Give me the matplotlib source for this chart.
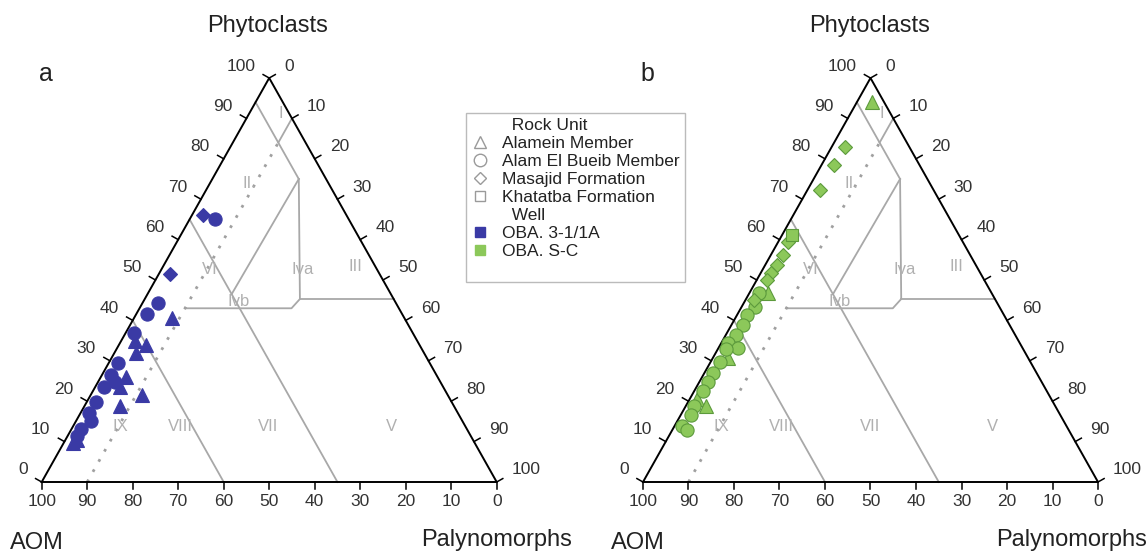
import numpy as np
import matplotlib
matplotlib.use("Agg")
from matplotlib import pyplot as plt
from matplotlib.lines import Line2D

plt.rcParams['font.family'] = ['Liberation Sans', 'DejaVu Sans']

W, H = 1148, 552
PX = 4.55                 # pixels per percent along the base
TRI_H = 404.0 / 455.0     # triangle height / base length

# data: (phytoclasts %, palynomorphs %); AOM is the rest
# panel a, well OBA. 3-1/1A
a_tri_phyto = [40.5, 34.9, 33.9, 31.9, 26.1, 23.5, 21.5, 18.9, 10.5, 9.6]
a_tri_paly = [8.4, 3.1, 5.9, 4.8, 5.5, 5.5, 11.4, 7.8, 2.6, 2.0]
a_cir_phyto = [65.0, 44.2, 41.7, 36.9, 29.5, 26.6, 24.8, 23.4, 19.9, 17.0, 15.1, 13.1, 11.5]
a_cir_paly = [5.6, 3.5, 2.2, 1.8, 2.0, 1.9, 3.6, 2.1, 2.0, 2.0, 3.3, 2.0, 2.0]
a_dia_phyto = [66.1, 51.5]
a_dia_paly = [2.3, 2.5]
a_sq_phyto = []
a_sq_paly = []

# panel b, well OBA. S-C
b_tri_phyto = [94.1, 46.7, 30.6, 20.5, 18.9]
b_tri_paly = [3.2, 4.2, 3.3, 1.7, 4.5]
b_cir_phyto = [46.7, 43.4, 41.3, 38.9, 36.4, 34.3, 33.1, 32.9, 29.8, 26.9, 24.7, 22.5, 18.8, 16.5, 13.8, 12.8]
b_cir_paly = [2.2, 2.9, 2.1, 2.6, 2.2, 1.5, 4.4, 1.9, 2.0, 2.0, 2.0, 2.0, 1.8, 2.2, 1.7, 3.3]
b_dia_phyto = [83.0, 78.5, 72.4, 59.5, 56.2, 53.7, 51.8, 50.0, 45.0]
b_dia_paly = [2.9, 2.8, 2.6, 2.2, 2.6, 2.5, 2.2, 2.2, 1.8]
b_sq_phyto = [61.1]
b_sq_paly = [2.3]

ticks = list(range(0, 101, 10))

# field boundaries as (phytoclasts, palynomorphs) polylines
fields = [
    [(40, 0), (0, 40)],                         # AOM 60
    [(65, 0), (0, 65)],                         # AOM 35
    [(46.5, 18.5), (75, 19)],                   # palynomorphs ~18
    [(94, 0), (75, 19)],                        # AOM 6
    [(75, 19), (45.3, 34.1), (43, 33.4), (43, 10)],
    [(45.3, 34.1), (45.3, 54.7)],
    [(84, 10), (90, 10)],
]
dotted = [(0, 10), (84, 10)]
field_names = ["I", "II.", "VI", "Iva", "III", "Ivb", "IX", "VIII", "VII", "V"]
field_pos = [(91.3, 6.8), (73.9, 8.8), (52.5, 10.7), (52.5, 31.2), (53.3, 42.2),
             (44.6, 20.9), (13.7, 10.4), (13.7, 23.6), (13.7, 43.0), (13.7, 70.0)]


def tern(phyto, paly):
    phyto = np.asarray(phyto, float)
    paly = np.asarray(paly, float)
    return paly + phyto / 2.0, phyto * TRI_H


def panel(ax, off, color, edge, sets, letter):
    h = 100 * TRI_H
    # outline
    ax.plot([0, 100, 50, 0], [0, 0, h, 0], color="k", lw=1.4, zorder=3)
    for pts in fields:
        x, y = tern([p[0] for p in pts], [p[1] for p in pts])
        ax.plot(x, y, color="#a8a8a8", lw=1.3, zorder=1)
    x, y = tern([p[0] for p in dotted], [p[1] for p in dotted])
    ax.plot(x, y, color="#a0a0a0", lw=2, ls=(0, (1, 3.2)), zorder=1)
    for name, (ph, pa) in zip(field_names, field_pos):
        x, y = tern(ph, pa)
        ax.text(x, y, name, color="#b0b0b0", fontsize=12, ha="center", va="center")

    # ticks
    L = 7 / PX
    nl = np.array([-h, 50.0]); nl /= np.hypot(*nl)
    nr = np.array([h, 50.0]); nr /= np.hypot(*nr)
    for v in ticks:
        # left edge: phytoclasts
        x, y = tern(v, 0)
        ax.plot([x, x + nl[0] * L], [y, y + nl[1] * L], color="k", lw=1.1)
        ax.annotate(str(v), (x, y), xytext=(-14, 12), textcoords="offset pixels",
                    ha="right", va="center", fontsize=12.5, color="#333333")
        # bottom edge: AOM
        x, y = tern(0, 100 - v)
        ax.plot([x, x], [y, y - L], color="k", lw=1.1)
        ax.annotate(str(v), (x, y), xytext=(0, -20), textcoords="offset pixels",
                    ha="center", va="center", fontsize=12.5, color="#333333")
        # right edge: palynomorphs
        x, y = tern(100 - v, v)
        ax.plot([x, x + nr[0] * L], [y, y + nr[1] * L], color="k", lw=1.1)
        ax.annotate(str(v), (x, y), xytext=(15, 12), textcoords="offset pixels",
                    ha="left", va="center", fontsize=12.5, color="#333333")

    (tp, tl), (cp, cl), (dp, dl), (sp, sl) = sets
    kw = dict(ls="", color=color, mec=edge, mew=0.8, zorder=4)
    ax.plot(*tern(tp, tl), marker="^", ms=10.5, **kw)
    ax.plot(*tern(cp, cl), marker="o", ms=9.5, **kw)
    ax.plot(*tern(dp, dl), marker="D", ms=7.2, **kw)
    ax.plot(*tern(sp, sl), marker="s", ms=8.5, **kw)

    ax.set_xlim(-(41.7) / PX, (574 - 41.7) / PX)
    ax.set_ylim(-(552 - 482) / PX, 482 / PX)
    ax.axis("off")

    fig.text((268 + off) / W, 1 - 32 / H, "Phytoclasts", fontsize=17, ha="center", va="baseline", color="#222222")
    fig.text((10 + off) / W, 1 - 549 / H, "AOM", fontsize=17, ha="left", va="baseline", color="#222222")
    fig.text(min(572 + off, 1147) / W, 1 - 546 / H, "Palynomorphs", fontsize=17, ha="right", va="baseline", color="#222222")
    fig.text((39 + off) / W, 1 - 80.7 / H, letter, fontsize=18, ha="left", va="baseline", color="#222222")


fig = plt.figure(figsize=(W / 100, H / 100), dpi=100)
ax_a = fig.add_axes([0, 0, 574 / W, 1])
ax_b = fig.add_axes([601.3 / W, 0, 574 / W, 1])

blue = "#3a3aa5"
green_face, green_edge = "#8cc85a", "#5c9a3c"
panel(ax_a, 0, blue, blue,
      [(a_tri_phyto, a_tri_paly), (a_cir_phyto, a_cir_paly), (a_dia_phyto, a_dia_paly), (a_sq_phyto, a_sq_paly)], "a")
panel(ax_b, 601.3, green_face, green_edge,
      [(b_tri_phyto, b_tri_paly), (b_cir_phyto, b_cir_paly), (b_dia_phyto, b_dia_paly), (b_sq_phyto, b_sq_paly)], "b")

hollow = dict(ls="", mfc="none", mec="#9a9a9a", mew=1.0)
handles = [
    Line2D([], [], ls="", label="  Rock Unit"),
    Line2D([], [], marker="^", ms=9, label="Alamein Member", **hollow),
    Line2D([], [], marker="o", ms=9, label="Alam El Bueib Member", **hollow),
    Line2D([], [], marker="D", ms=6.5, label="Masajid Formation", **hollow),
    Line2D([], [], marker="s", ms=7, label="Khatatba Formation", **hollow),
    Line2D([], [], ls="", label="  Well"),
    Line2D([], [], ls="", marker="s", ms=7, color=blue, label="OBA. 3-1/1A"),
    Line2D([], [], ls="", marker="s", ms=7, color=green_face, label="OBA. S-C"),
    Line2D([], [], ls="", label=" "),
]
leg = fig.legend(handles=handles, loc="upper left", bbox_to_anchor=(466 / W, 1 - 113 / H),
                 borderaxespad=0, fontsize=12.5, frameon=True, fancybox=False,
                 handlelength=1.0, handletextpad=0.8, labelspacing=0.16, borderpad=0.3)
leg.get_frame().set_edgecolor("#aaaaaa")
leg.get_frame().set_linewidth(1.0)
for t in leg.get_texts():
    t.set_color("#222222")

fig.savefig("out.png", dpi=100)
